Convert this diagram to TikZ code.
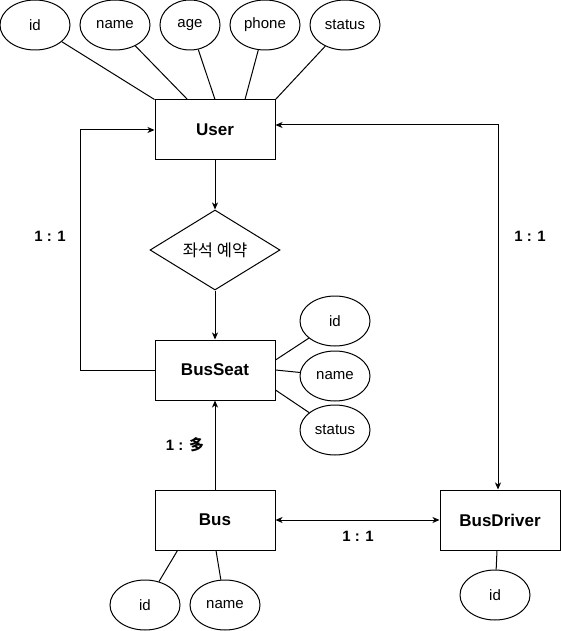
\documentclass[tikz,border=0pt]{standalone}
\usepackage{fontspec}
\setmainfont{Liberation Sans}
\newfontfamily\cjk{Noto Sans CJK KR}
\usetikzlibrary{shapes.geometric,arrows.meta}
\begin{document}
\begin{tikzpicture}[x=1pt,y=-1pt,line width=1pt,
  ent/.style={draw,minimum width=120pt,minimum height=60pt,inner sep=0pt,font=\fontsize{17}{19}\selectfont\bfseries},
  attr/.style={draw,ellipse,minimum width=70pt,minimum height=50pt,inner sep=0pt,font=\fontsize{15}{17}\selectfont},
  rel/.style={draw,diamond,aspect=1.625,minimum width=130pt,minimum height=80pt,inner sep=0pt},
  lbl/.style={font=\fontsize{15}{17}\selectfont\bfseries},
  arr/.style={-{Stealth[length=7pt,width=6pt,inset=2pt]}},
  darr/.style={{Stealth[length=7pt,width=6pt,inset=2pt]}-{Stealth[length=7pt,width=6pt,inset=2pt]}}]
\useasboundingbox (0,0) rectangle (561,631);
% entities
\node[ent] (user) at (215,130) {User};
\node[ent] (busseat) at (215,370) {BusSeat};
\node[ent] (bus) at (215,520) {Bus};
\node[ent] (driver) at (500,520) {BusDriver};
\node[rel] (res) at (215,250) {\cjk\fontsize{16.5}{18}\selectfont 좌석 예약};
% user attributes
\node[attr] (uid) at (35,25) {id};
\node[attr] (uname) at (115,25) {name};
\node[attr,minimum width=60pt] (uage) at (190,25) {age};
\node[attr] (uphone) at (265,25) {phone};
\node[attr] (ustatus) at (345,25) {status};
% busseat attributes
\node[attr] (sid) at (335,321) {id};
\node[attr] (sname) at (335,376) {name};
\node[attr] (sstatus) at (335,430) {status};
% bus attributes
\node[attr] (bid) at (145,605) {id};
\node[attr] (bname) at (225,605) {name};
% driver attribute
\node[attr] (did) at (495,595) {id};
% attribute lines
\draw (uid) -- (user.north west);
\draw (uname) -- ([xshift=33pt]user.north west);
\draw (uage) -- (user.north);
\draw (uphone) -- ([xshift=30pt]user.north);
\draw (ustatus) -- (user.north east);
\draw ([yshift=10pt]busseat.east) -- (sid);
\draw (busseat.east) -- (sname);
\draw ([yshift=-20pt]busseat.east) -- (sstatus);
\draw ([xshift=23pt]bus.south west) -- (bid);
\draw ([xshift=1pt]bus.south) -- (bname);
\draw ([xshift=-3pt]driver.south) -- (did);
% relationships
\draw[arr] (user) -- (res);
\draw[arr] (res) -- (busseat);
\draw[arr] (busseat.west) -- (80,370) -- (80,130) -- (user.west);
\draw[darr] ([yshift=5pt]user.east) -- (498,125) -- ([xshift=-2pt]driver.north);
\draw[arr] (bus) -- (busseat);
\draw[darr] (bus) -- (driver);
% labels
\node[lbl] (l1) at (50,236) {1 : 1};
\node[lbl] (l2) at (530,236) {1 : 1};
\node[lbl] (l3) at (185,445) {1 : {\cjk 多}};
\node[lbl] (l4) at (358,536) {1 : 1};
\end{tikzpicture}
\end{document}
